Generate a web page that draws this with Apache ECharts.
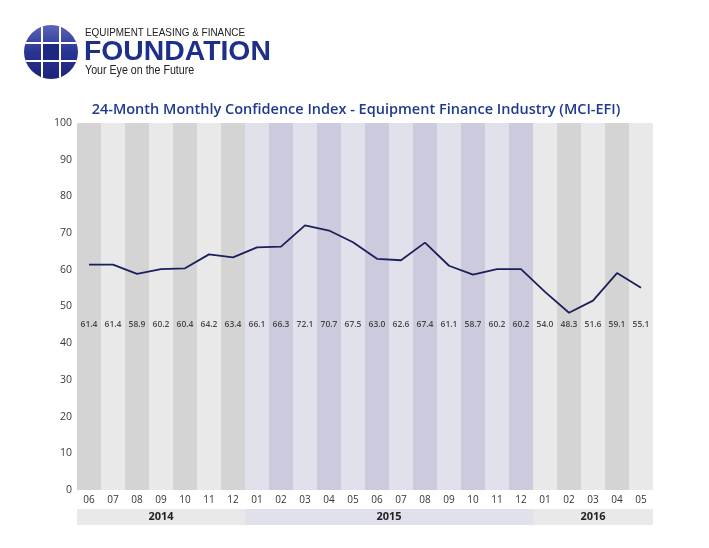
<!DOCTYPE html>
<html lang="en">
  <head>
    <meta charset="UTF-8" />
    <title>MCI-EFI</title>
    <script src="https://cdn.jsdelivr.net/npm/echarts@6/dist/echarts.min.js"></script>
    <style>
      html, body { margin: 0; padding: 0; background: #fff; }
      #main { width: 709px; height: 548px; }
    </style>
  </head>
  <body>
    <div id="main"></div>
    <script>
      // months shown on the x axis (Jun 2014 - May 2016)
      const months = ["06", "07", "08", "09", "10", "11", "12",
        "01", "02", "03", "04", "05", "06", "07", "08", "09", "10", "11", "12",
        "01", "02", "03", "04", "05"];
      const monthYear = ["2014", "2014", "2014", "2014", "2014", "2014", "2014",
        "2015", "2015", "2015", "2015", "2015", "2015", "2015", "2015", "2015", "2015", "2015", "2015",
        "2016", "2016", "2016", "2016", "2016"];
      const mciValues = [61.4, 61.4, 58.9, 60.2, 60.4, 64.2, 63.4,
        66.1, 66.3, 72.1, 70.7, 67.5, 63.0, 62.6, 67.4, 61.1, 58.7, 60.2, 60.2,
        54.0, 48.3, 51.6, 59.1, 55.1];
      const years = ["2014", "2015", "2016"];
      const yTicks = { min: 0, max: 100, interval: 10 };

      const LABEL_ROW = 45; // value row where the numbers sit

      // column shading: gray for 2014/2016, lavender for 2015
      const colColor = (i) => {
        const dark = i % 2 === 0;
        if (monthYear[i] === "2015") return dark ? "#cbcbdd" : "#e1e1eb";
        return dark ? "#d4d4d4" : "#e9e9e9";
      };
      const yearColor = (y) => (y === "2015" ? "#e1e1eb" : "#e9e9e9");

      const monthCount = years.map((y) => monthYear.filter((m) => m === y).length);

      const font = "'Open Sans', 'Noto Sans', sans-serif";

      const option = {
        animation: false,
        backgroundColor: "#fff",
        title: {
          text: "24-Month Monthly Confidence Index - Equipment Finance Industry (MCI-EFI)",
          left: 356,
          top: 97,
          textAlign: "center",
          textStyle: { color: "#1f3a8e", fontSize: 14.5, fontWeight: 600, fontFamily: font },
        },
        grid: [
          { left: 77, right: 56, top: 123, bottom: 58 },
          { left: 77, right: 56, top: 509, height: 16 },
        ],
        xAxis: [
          {
            type: "category",
            gridIndex: 0,
            data: months,
            axisLine: { show: false },
            axisTick: { show: false, interval: 0 },
            axisLabel: { color: "#333", fontSize: 10, fontFamily: font, margin: 5, interval: 0 },
            splitArea: {
              show: true,
              interval: 0,
              areaStyle: { color: months.map((m, i) => colColor(i)) },
            },
          },
          { type: "value", gridIndex: 1, min: 0, max: months.length, show: false },
        ],
        yAxis: [
          {
            type: "value",
            gridIndex: 0,
            min: yTicks.min,
            max: yTicks.max,
            interval: yTicks.interval,
            axisLine: { show: false },
            axisTick: { show: false },
            splitLine: { show: false },
            axisLabel: { color: "#3a3a3a", fontSize: 10.5, fontFamily: font, margin: 5 },
          },
          { type: "category", gridIndex: 1, data: ["year"], show: false },
        ],
        series: [
          {
            name: "MCI-EFI",
            type: "line",
            data: mciValues,
            showSymbol: false,
            z: 3,
            lineStyle: { color: "#1b1f5c", width: 1.8 },
          },
          {
            name: "labels",
            type: "scatter",
            data: mciValues.map((v, i) => [i, LABEL_ROW, v]),
            symbolSize: 0,
            silent: true,
            label: {
              show: true,
              position: "inside",
              formatter: (p) => p.data[2].toFixed(1),
              color: "#222",
              fontSize: 8.5,
              fontWeight: 600,
              fontFamily: font,
            },
          },
          ...years.map((y, k) => ({
            name: y,
            type: "bar",
            stack: "years",
            xAxisIndex: 1,
            yAxisIndex: 1,
            barWidth: 16,
            silent: true,
            data: [monthCount[k]],
            itemStyle: { color: yearColor(y) },
            label: {
              show: true,
              position: "inside",
              formatter: y,
              color: "#222",
              fontSize: 11,
              fontWeight: "bold",
              fontFamily: font,
            },
          })),
        ],
        graphic: [
          {
            type: "circle",
            shape: { cx: 51, cy: 52, r: 27 },
            style: {
              fill: new echarts.graphic.LinearGradient(0, 0, 0, 1, [
                { offset: 0, color: "#5a64b8" },
                { offset: 0.5, color: "#2a3493" },
                { offset: 1, color: "#1c2479" },
              ]),
            },
          },
          { type: "rect", shape: { x: 42, y: 43, width: 18, height: 18 }, style: { fill: "#1e2883" } },
          { type: "line", shape: { x1: 42, y1: 26.5, x2: 42, y2: 77.5 }, style: { stroke: "#fff", lineWidth: 2 } },
          { type: "line", shape: { x1: 60, y1: 26.5, x2: 60, y2: 77.5 }, style: { stroke: "#fff", lineWidth: 2 } },
          { type: "line", shape: { x1: 25.5, y1: 43, x2: 76.5, y2: 43 }, style: { stroke: "#fff", lineWidth: 2 } },
          { type: "line", shape: { x1: 25.5, y1: 61, x2: 76.5, y2: 61 }, style: { stroke: "#fff", lineWidth: 2 } },
          {
            type: "text",
            x: 85, y: 27, scaleX: 0.9,
            style: { text: "EQUIPMENT LEASING & FINANCE", fill: "#222", fontSize: 11, fontFamily: "'Liberation Sans', Arial, sans-serif" },
          },
          {
            type: "text",
            x: 84, y: 39, scaleX: 1.05,
            style: { text: "FOUNDATION", fill: "#1e2f8a", fontSize: 27, fontWeight: "bold", fontFamily: "'Liberation Sans', Arial, sans-serif" },
          },
          {
            type: "text",
            x: 85, y: 64, scaleX: 0.82,
            style: { text: "Your Eye on the Future", fill: "#222", fontSize: 13, fontFamily: "'Liberation Sans', Arial, sans-serif" },
          },
        ],
      };

      // textAlign center on the title needs the anchor shifted a touch left
      option.title.left = 351;

      const chart = echarts.init(document.getElementById("main"));
      chart.setOption(option);
    </script>
  </body>
</html>
